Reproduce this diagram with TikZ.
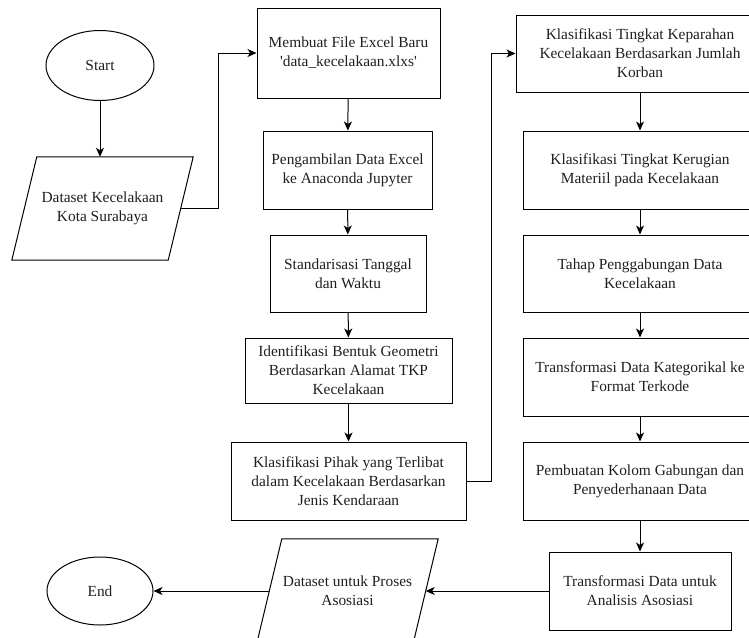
\documentclass[tikz,border=0pt]{standalone}
\usepackage{fontspec}
\setmainfont{Liberation Serif}
\usetikzlibrary{shapes.geometric,arrows.meta,calc}
\begin{document}
\begin{tikzpicture}[x=1pt,y=-1pt,
  every node/.style={font=\fontsize{15.4}{19}\selectfont, text=black!88, align=center, inner sep=0pt},
  proc/.style={draw, line width=1pt, rectangle},
  term/.style={draw, line width=1pt, ellipse, minimum width=108pt, minimum height=70pt},
  io/.style={rectangle, draw=none, minimum width=181pt, minimum height=103pt},
  para/.style={draw, line width=1pt, line join=miter},
  arr/.style={-{Stealth[length=9pt,width=8pt,inset=2.5pt]}, line width=1pt},
  conn/.style={line width=1pt}]
\useasboundingbox (0,0) rectangle (749,637);
\clip (0,0) rectangle (749,637);

% left column
\node[term] (start) at (100,65.5) {Start};
\node[io] (p1) at (102.5,208.5) {Dataset Kecelakaan\\Kota Surabaya};
\draw[para] ($(p1.north west)+(25,0)$) -- (p1.north east) -- ($(p1.south east)+(-25,0)$) -- (p1.south west) -- cycle;
\coordinate (p1e) at ($(p1.east)+(-12.5,0)$);

\node[proc, minimum width=183pt, minimum height=90pt] (b1) at (348.5,53) {Membuat File Excel Baru\\\textquotesingle data\_kecelakaan.xlxs\textquotesingle};
\node[proc, minimum width=169pt, minimum height=78pt] (b2) at (347.5,170) {Pengambilan Data Excel\\ke Anaconda Jupyter};
\node[proc, minimum width=156pt, minimum height=77pt] (b3) at (348,273.5) {Standarisasi Tanggal\\dan Waktu};
\node[proc, minimum width=207pt, minimum height=65pt] (b4) at (348.5,370.5) {Identifikasi Bentuk Geometri\\Berdasarkan Alamat TKP\\Kecelakaan};
\node[proc, minimum width=235pt, minimum height=78pt] (b5) at (348.5,481) {Klasifikasi Pihak yang Terlibat\\dalam Kecelakaan Berdasarkan\\Jenis Kendaraan};

% right column
\node[proc, minimum width=248pt, minimum height=77pt] (b6) at (640,53.5) {Klasifikasi Tingkat Keparahan\\Kecelakaan Berdasarkan Jumlah\\Korban};
\node[proc, minimum width=234pt, minimum height=78pt] (b7) at (640,170) {Klasifikasi Tingkat Kerugian\\Materiil pada Kecelakaan};
\node[proc, minimum width=234pt, minimum height=77pt] (b8) at (640,273.5) {Tahap Penggabungan Data\\Kecelakaan};
\node[proc, minimum width=234pt, minimum height=78pt] (b9) at (640,377) {Transformasi Data Kategorikal ke\\Format Terkode};
\node[proc, minimum width=234pt, minimum height=78pt] (b10) at (640,481) {Pembuatan Kolom Gabungan dan\\Penyederhanaan Data};
\node[proc, minimum width=182pt, minimum height=78pt] (b11) at (640,591) {Transformasi Data untuk\\Analisis Asosiasi};

% bottom row
\node[io, minimum height=104pt] (p2) at (347.5,591) {Dataset untuk Proses\\Asosiasi};
\draw[para] ($(p2.north west)+(25,0)$) -- (p2.north east) -- ($(p2.south east)+(-25,0)$) -- (p2.south west) -- cycle;
\coordinate (p2e) at ($(p2.east)+(-12.5,0)$);
\coordinate (p2w) at ($(p2.west)+(12.5,0)$);
\node[term, minimum width=106pt, minimum height=68pt] (end) at (100,591) {End};

% connectors
\draw[arr] (start) -- (p1.north -| start);
\draw[arr] (p1e) -- ++(37.5,0) |- (b1.west);
\draw[arr] (b1) -- (b2);
\draw[arr] (b2) -- (b3);
\draw[arr] (b3) -- (b4);
\draw[arr] (b4) -- (b5);
\draw[arr] (b5.east) -- ++(25,0) |- (b6.west);
\draw[arr] (b6) -- (b7);
\draw[arr] (b7) -- (b8);
\draw[arr] (b8) -- (b9);
\draw[arr] (b9) -- (b10);
\draw[arr] (b10) -- (b11);
\draw[arr] (b11.west) -- (p2e);
\draw[arr] (p2w) -- (end.east);
\end{tikzpicture}
\end{document}
